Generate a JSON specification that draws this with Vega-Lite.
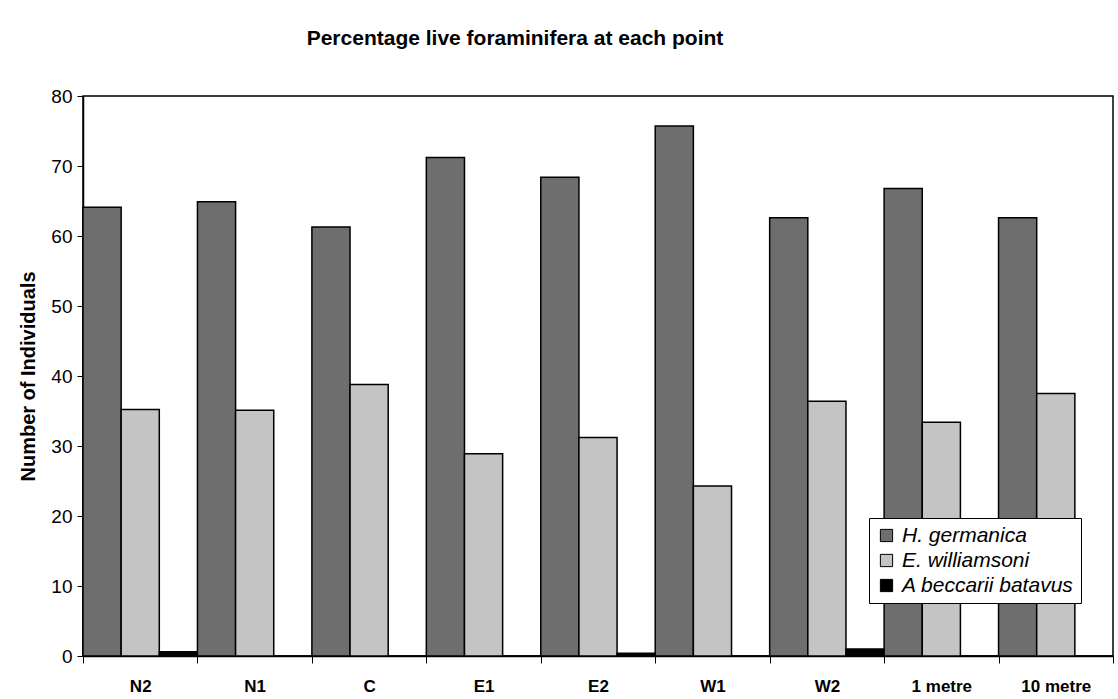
{
  "$schema": "https://vega.github.io/schema/vega-lite/v6.json",
  "autosize": "none",
  "padding": {"left": 83, "top": 96, "right": 5, "bottom": 43},
  "width": 1030,
  "height": 560,
  "background": "white",
  "title": {"text": "Percentage live foraminifera at each point", "font": "Liberation Sans", "fontSize": 21, "fontWeight": "bold", "color": "black", "anchor": "middle", "dx": -83, "offset": 38},
  "config": {"view": {"stroke": "black", "strokeWidth": 1.5}},
  "data": {"values": [
    {"site": "N2", "species": "H. germanica", "v": 64.1},
    {"site": "N2", "species": "E. williamsoni", "v": 35.2},
    {"site": "N2", "species": "A beccarii batavus", "v": 0.6},
    {"site": "N1", "species": "H. germanica", "v": 64.9},
    {"site": "N1", "species": "E. williamsoni", "v": 35.1},
    {"site": "N1", "species": "A beccarii batavus", "v": 0},
    {"site": "C", "species": "H. germanica", "v": 61.3},
    {"site": "C", "species": "E. williamsoni", "v": 38.8},
    {"site": "C", "species": "A beccarii batavus", "v": 0},
    {"site": "E1", "species": "H. germanica", "v": 71.2},
    {"site": "E1", "species": "E. williamsoni", "v": 28.9},
    {"site": "E1", "species": "A beccarii batavus", "v": 0},
    {"site": "E2", "species": "H. germanica", "v": 68.4},
    {"site": "E2", "species": "E. williamsoni", "v": 31.2},
    {"site": "E2", "species": "A beccarii batavus", "v": 0.4},
    {"site": "W1", "species": "H. germanica", "v": 75.7},
    {"site": "W1", "species": "E. williamsoni", "v": 24.3},
    {"site": "W1", "species": "A beccarii batavus", "v": 0},
    {"site": "W2", "species": "H. germanica", "v": 62.6},
    {"site": "W2", "species": "E. williamsoni", "v": 36.4},
    {"site": "W2", "species": "A beccarii batavus", "v": 1.0},
    {"site": "1 metre", "species": "H. germanica", "v": 66.8},
    {"site": "1 metre", "species": "E. williamsoni", "v": 33.4},
    {"site": "1 metre", "species": "A beccarii batavus", "v": 0},
    {"site": "10 metre", "species": "H. germanica", "v": 62.6},
    {"site": "10 metre", "species": "E. williamsoni", "v": 37.5},
    {"site": "10 metre", "species": "A beccarii batavus", "v": 0}
  ]},
  "mark": {"type": "bar", "stroke": "black", "strokeWidth": 1.5},
  "encoding": {
    "x": {"field": "site", "type": "nominal", "sort": null,
      "scale": {"paddingInner": 0, "paddingOuter": 0},
      "axis": {"title": null, "labelAngle": 0, "labelFont": "Liberation Sans", "labelFontSize": 17, "labelFontWeight": "bold", "labelColor": "black", "labelPadding": 15, "tickBand": "extent", "tickSize": 7, "tickColor": "black", "domainColor": "black", "domainWidth": 1.5}},
    "xOffset": {"field": "species", "type": "nominal", "sort": ["H. germanica", "E. williamsoni", "A beccarii batavus"], "scale": {"paddingInner": 0, "paddingOuter": 0}},
    "y": {"field": "v", "type": "quantitative",
      "scale": {"domain": [0, 80]},
      "axis": {"title": "Number of Individuals", "titleFont": "Liberation Sans", "titleFontSize": 20, "titleFontWeight": "bold", "titleColor": "black", "titlePadding": 12, "values": [0, 10, 20, 30, 40, 50, 60, 70, 80], "grid": false, "labelFont": "Liberation Sans", "labelFontSize": 19, "labelColor": "black", "labelPadding": 5, "tickSize": 6, "tickColor": "black", "domainColor": "black", "domainWidth": 1.5}},
    "fill": {"field": "species", "type": "nominal",
      "sort": ["H. germanica", "E. williamsoni", "A beccarii batavus"],
      "scale": {"domain": ["H. germanica", "E. williamsoni", "A beccarii batavus"], "range": ["#6e6e6e", "#c4c4c4", "#000000"]},
      "legend": {"title": null, "orient": "none", "legendX": 786, "legendY": 422, "labelFont": "Liberation Sans", "labelFontSize": 21, "labelFontStyle": "italic", "labelColor": "black", "labelLimit": 400, "symbolType": "square", "symbolSize": 150, "symbolStrokeColor": "black", "symbolStrokeWidth": 1, "rowPadding": 3, "padding": 7, "strokeColor": "black", "fillColor": "white", "labelOffset": 5}}
  }
}
